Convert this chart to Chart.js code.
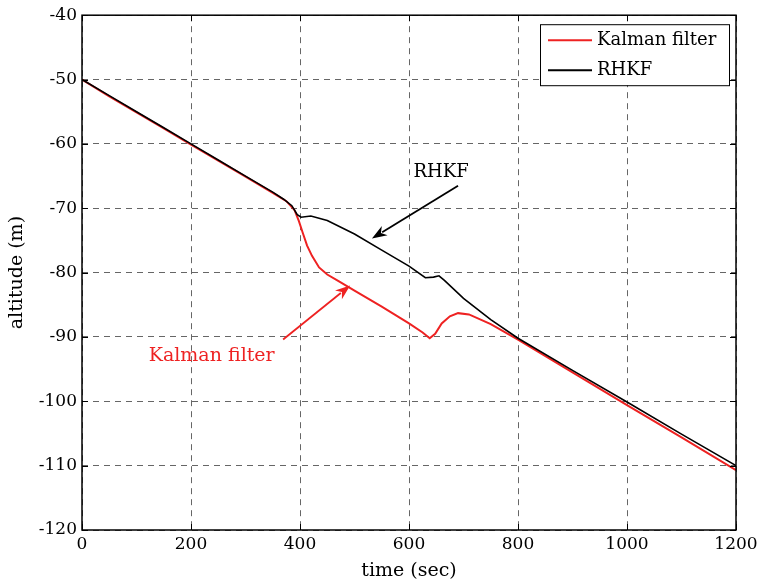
<!DOCTYPE html>
<html>
<head>
<meta charset="utf-8">
<script src="https://cdn.jsdelivr.net/npm/chart.js@4"></script>
<style>
  html, body { margin: 0; padding: 0; background: #fff; }
  #wrap { width: 759px; height: 584px; }
</style>
</head>
<body>
<div id="wrap"><canvas id="altChart"></canvas></div>
<script>
// data
const timeKalman = [0, 50, 100, 150, 200, 250, 300, 350, 375, 390, 398, 405, 413, 422, 435, 450, 470, 500, 550, 600, 625, 638, 648, 660, 675, 690, 710, 750, 800, 900, 1000, 1100, 1200];
const altKalman  = [-50, -52.6, -55.1, -57.6, -60.1, -62.6, -65.1, -67.6, -68.9, -70.3, -72.0, -73.8, -75.8, -77.4, -79.2, -80.3, -81.3, -82.8, -85.3, -87.9, -89.3, -90.2, -89.5, -87.9, -86.8, -86.3, -86.5, -88.0, -90.4, -95.5, -100.6, -105.6, -110.7];

const timeRhkf = [0, 50, 100, 150, 200, 250, 300, 350, 370, 385, 395, 402, 420, 450, 500, 550, 600, 630, 645, 655, 665, 700, 750, 800, 900, 1000, 1100, 1200];
const altRhkf  = [-50, -52.5, -55, -57.5, -60, -62.5, -65, -67.5, -68.6, -69.6, -71.0, -71.4, -71.2, -71.9, -74.0, -76.5, -79.0, -80.8, -80.7, -80.5, -81.2, -84.0, -87.3, -90.2, -95.2, -100.1, -105.1, -110.0];

const xTicks = [0, 200, 400, 600, 800, 1000, 1200];
const yTicks = [-40, -50, -60, -70, -80, -90, -100, -110, -120];

const seriesNames = ['Kalman filter', 'RHKF'];
const seriesColors = ['#ee2222', '#000000'];

const FONT = 'DejaVu Serif';

function toPoints(xs, ys) {
  return xs.map((x, i) => ({ x: x, y: ys[i] }));
}

function arrow(ctx, x1, y1, x2, y2, color) {
  const ang = Math.atan2(y2 - y1, x2 - x1);
  const len = 15, half = 5.5;
  ctx.strokeStyle = color;
  ctx.fillStyle = color;
  ctx.lineWidth = 1.8;
  ctx.beginPath();
  ctx.moveTo(x1, y1);
  ctx.lineTo(x2 - Math.cos(ang) * len * 0.8, y2 - Math.sin(ang) * len * 0.8);
  ctx.stroke();
  ctx.beginPath();
  ctx.moveTo(x2, y2);
  ctx.lineTo(x2 - Math.cos(ang) * len - Math.sin(ang) * half, y2 - Math.sin(ang) * len + Math.cos(ang) * half);
  ctx.lineTo(x2 - Math.cos(ang) * len * 0.7, y2 - Math.sin(ang) * len * 0.7);
  ctx.lineTo(x2 - Math.cos(ang) * len + Math.sin(ang) * half, y2 - Math.sin(ang) * len - Math.cos(ang) * half);
  ctx.closePath();
  ctx.fill();
}

// box, inward ticks, legend and the two labelled arrows
const decorations = {
  id: 'decorations',
  afterDraw(chart) {
    const ctx = chart.ctx;
    const a = chart.chartArea;
    const xs = chart.scales.x, ys = chart.scales.y;
    ctx.save();

    ctx.strokeStyle = '#000';
    ctx.lineWidth = 1.5;
    ctx.strokeRect(a.left, a.top, a.right - a.left, a.bottom - a.top);

    ctx.lineWidth = 1;
    const tk = 6;
    ctx.beginPath();
    xTicks.forEach(v => {
      const px = Math.round(xs.getPixelForValue(v)) + 0.5;
      ctx.moveTo(px, a.bottom); ctx.lineTo(px, a.bottom - tk);
      ctx.moveTo(px, a.top); ctx.lineTo(px, a.top + tk);
    });
    yTicks.forEach(v => {
      const py = Math.round(ys.getPixelForValue(v)) + 0.5;
      ctx.moveTo(a.left, py); ctx.lineTo(a.left + tk, py);
      ctx.moveTo(a.right, py); ctx.lineTo(a.right - tk, py);
    });
    ctx.stroke();

    // legend
    const lx = a.right - 196, ly = a.top + 9, lw = 189, lh = 61;
    ctx.fillStyle = '#fff';
    ctx.fillRect(lx, ly, lw, lh);
    ctx.strokeStyle = '#000';
    ctx.lineWidth = 1;
    ctx.strokeRect(lx + 0.5, ly + 0.5, lw, lh);
    ctx.font = '18px "' + FONT + '"';
    ctx.textBaseline = 'middle';
    ctx.textAlign = 'left';
    seriesNames.forEach((name, i) => {
      const yy = ly + 16 + i * 30;
      ctx.strokeStyle = seriesColors[i];
      ctx.lineWidth = 2;
      ctx.beginPath();
      ctx.moveTo(lx + 8, yy); ctx.lineTo(lx + 52, yy);
      ctx.stroke();
      ctx.fillStyle = '#000';
      ctx.fillText(name, lx + 57, yy);
    });

    // annotations (placed in data units)
    ctx.font = '18px "' + FONT + '"';
    ctx.textAlign = 'center';
    ctx.fillStyle = '#000';
    ctx.fillText('RHKF', xs.getPixelForValue(659), ys.getPixelForValue(-64.4));
    arrow(ctx, xs.getPixelForValue(690), ys.getPixelForValue(-66.5),
               xs.getPixelForValue(532), ys.getPixelForValue(-74.7), '#000');

    ctx.font = '19px "' + FONT + '"';
    ctx.fillStyle = seriesColors[0];
    ctx.fillText('Kalman filter', xs.getPixelForValue(238), ys.getPixelForValue(-92.9));
    arrow(ctx, xs.getPixelForValue(369), ys.getPixelForValue(-90.4),
               xs.getPixelForValue(492), ys.getPixelForValue(-82.0), seriesColors[0]);

    ctx.restore();
  }
};

new Chart(document.getElementById('altChart'), {
  type: 'line',
  data: {
    datasets: [
      {
        label: seriesNames[0],
        data: toPoints(timeKalman, altKalman),
        borderColor: seriesColors[0],
        borderWidth: 2,
        pointRadius: 0,
        tension: 0,
        order: 2
      },
      {
        label: seriesNames[1],
        data: toPoints(timeRhkf, altRhkf),
        borderColor: seriesColors[1],
        borderWidth: 1.6,
        pointRadius: 0,
        tension: 0,
        order: 1
      }
    ]
  },
  options: {
    responsive: true,
    maintainAspectRatio: false,
    animation: false,
    devicePixelRatio: 1,
    layout: { padding: { top: 12, right: 23, left: 0, bottom: 0 } },
    plugins: {
      legend: { display: false },
      tooltip: { enabled: false }
    },
    scales: {
      x: {
        type: 'linear',
        min: 0,
        max: 1200,
        afterBuildTicks: s => { s.ticks = xTicks.map(v => ({ value: v })); },
        afterFit: s => { s.height = 54; s.paddingRight = 0; s.paddingLeft = 0; },
        ticks: {
          color: '#000',
          padding: 4,
          maxRotation: 0,
          callback: v => String(v),
          font: { family: FONT, size: 17 }
        },
        grid: { color: 'rgba(0,0,0,0.6)', lineWidth: 1, drawTicks: false },
        border: { display: false, dash: [6, 5] },
        title: {
          display: true,
          text: 'time (sec)',
          color: '#000',
          padding: { top: 0, bottom: 2 },
          font: { family: FONT, size: 19 }
        }
      },
      y: {
        min: -120,
        max: -40,
        afterBuildTicks: s => { s.ticks = yTicks.map(v => ({ value: v })); },
        afterFit: s => { s.width = 82; },
        ticks: {
          color: '#000',
          padding: 5,
          callback: v => String(v),
          font: { family: FONT, size: 17 }
        },
        grid: { color: 'rgba(0,0,0,0.6)', lineWidth: 1, drawTicks: false },
        border: { display: false, dash: [6, 5] },
        title: {
          display: true,
          text: 'altitude (m)',
          color: '#000',
          padding: { top: 6, bottom: 0 },
          font: { family: FONT, size: 19 }
        }
      }
    }
  },
  plugins: [decorations]
});
</script>
</body>
</html>
